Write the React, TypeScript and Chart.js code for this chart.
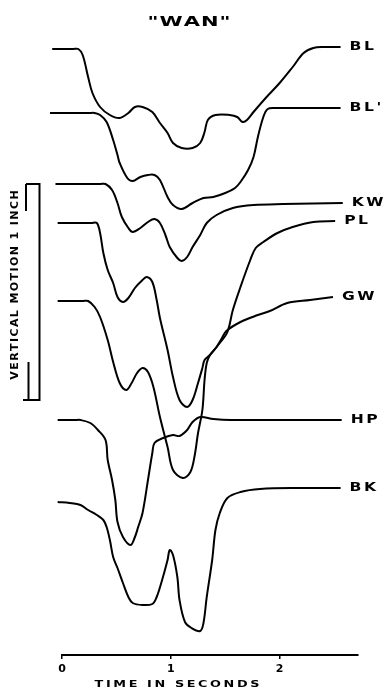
import { useEffect, useRef } from 'react';
import Chart from 'chart.js/auto';

// Time axis (seconds)
const X_TICKS = [0, 1, 2];
const X_MAX = 2.72;
// Vertical position scale (downward units, 215 units = 1 inch)
const Y_MAX = 655;
const INCH_TOP = 184;
const INCH_BOTTOM = 400;

const TITLE = '"WAN"';
const X_TITLE = 'TIME IN SECONDS';
const SCALE_TEXT = 'VERTICAL MOTION 1 INCH';

// [time s, vertical position]
const BL: [number, number][] = [
  [-0.09, 49], [0.1, 49], [0.15, 49], [0.19, 55], [0.24, 77], [0.28, 93], [0.35, 107], [0.44, 115], [0.53, 118],
  [0.61, 113], [0.67, 107], [0.74, 107], [0.83, 112], [0.9, 123], [0.97, 133], [1.02, 143], [1.1, 148],
  [1.2, 148], [1.27, 143], [1.31, 132], [1.34, 120], [1.41, 115], [1.54, 115], [1.61, 117], [1.66, 122],
  [1.7, 120], [1.76, 112], [1.88, 97], [2.0, 83], [2.12, 67], [2.22, 53], [2.31, 48], [2.4, 47], [2.56, 47],
];
const BL2: [number, number][] = [
  [-0.11, 113], [0.25, 113], [0.3, 113], [0.35, 115], [0.41, 122], [0.47, 140], [0.51, 155], [0.53, 163], [0.6, 178],
  [0.65, 181], [0.72, 177], [0.79, 175], [0.85, 175], [0.9, 180], [0.97, 197], [1.02, 205], [1.1, 209],
  [1.2, 203], [1.3, 198], [1.39, 197], [1.5, 193], [1.59, 188], [1.64, 182], [1.71, 170], [1.76, 157],
  [1.8, 137], [1.85, 117], [1.89, 109], [1.96, 108], [2.08, 108], [2.56, 108],
];
const KW: [number, number][] = [
  [-0.06, 184], [0.35, 184], [0.4, 184], [0.46, 190], [0.51, 203], [0.55, 217], [0.61, 228], [0.65, 232], [0.72, 228],
  [0.79, 222], [0.85, 219], [0.9, 223], [0.95, 235], [0.99, 247], [1.06, 258], [1.1, 261], [1.15, 257],
  [1.2, 247], [1.27, 235], [1.33, 223], [1.42, 215], [1.57, 208], [1.76, 205], [2.03, 204], [2.58, 203],
];
const PL: [number, number][] = [
  [-0.04, 223], [0.27, 223], [0.32, 223], [0.35, 233], [0.38, 253], [0.42, 270], [0.47, 283], [0.51, 297], [0.56, 302],
  [0.61, 298], [0.67, 288], [0.74, 280], [0.78, 277], [0.83, 282], [0.87, 300], [0.9, 318], [0.97, 350],
  [1.02, 377], [1.08, 400], [1.15, 407], [1.2, 400], [1.25, 383], [1.29, 368], [1.31, 360], [1.36, 355],
  [1.45, 343], [1.52, 332], [1.57, 310], [1.64, 287], [1.73, 260], [1.78, 248], [1.85, 242], [1.98, 233],
  [2.12, 227], [2.31, 222], [2.51, 221],
];
const GW: [number, number][] = [
  [-0.04, 301], [0.19, 301], [0.24, 301], [0.3, 307], [0.35, 317], [0.42, 340], [0.47, 362], [0.53, 383], [0.59, 390],
  [0.64, 383], [0.69, 373], [0.74, 368], [0.79, 372], [0.84, 387], [0.9, 417], [0.97, 447], [1.02, 470],
  [1.11, 478], [1.18, 472], [1.22, 455], [1.25, 433], [1.29, 410], [1.31, 380], [1.33, 363], [1.36, 355],
  [1.42, 347], [1.47, 338], [1.51, 331], [1.64, 322], [1.8, 315], [1.91, 311], [2.07, 303], [2.28, 300],
  [2.49, 297],
];
const HP: [number, number][] = [
  [-0.04, 420], [0.12, 420], [0.17, 420], [0.26, 423], [0.33, 430], [0.4, 440], [0.42, 460], [0.46, 480], [0.49, 500],
  [0.51, 522], [0.56, 537], [0.63, 545], [0.67, 537], [0.7, 527], [0.74, 513], [0.79, 480], [0.83, 453],
  [0.85, 443], [0.93, 438], [1.02, 435], [1.08, 436], [1.15, 430], [1.2, 422], [1.27, 417], [1.39, 419],
  [1.55, 420], [2.57, 420],
];
const BK: [number, number][] = [
  [-0.04, 502], [0.07, 503], [0.17, 505], [0.24, 510], [0.32, 515], [0.38, 520], [0.41, 527], [0.44, 540],
  [0.47, 557], [0.51, 568], [0.56, 583], [0.61, 597], [0.65, 603], [0.74, 605], [0.83, 604], [0.87, 597],
  [0.92, 580], [0.97, 560], [0.99, 550], [1.02, 555], [1.06, 577], [1.08, 600], [1.13, 622], [1.19, 628],
  [1.27, 631], [1.3, 623], [1.33, 597], [1.38, 560], [1.41, 530], [1.45, 513], [1.52, 498], [1.64, 492],
  [1.82, 489], [2.19, 488], [2.56, 488],
];

const SERIES_NAMES = ['BL', "BL'", 'KW', 'PL', 'GW', 'HP', 'BK'];
const SERIES_DATA = [BL, BL2, KW, PL, GW, HP, BK];

const FONT = '"DejaVu Sans", sans-serif';

function drawSpaced(
  ctx: CanvasRenderingContext2D,
  text: string,
  x: number,
  y: number,
  size: number,
  scaleX: number,
  spacing: number,
  align: 'left' | 'center'
) {
  ctx.font = `bold ${size}px ${FONT}`;
  ctx.textAlign = 'left';
  ctx.textBaseline = 'middle';
  const chars = [...text];
  const widths = chars.map((c) => ctx.measureText(c).width * scaleX);
  const total = widths.reduce((a, b) => a + b, 0) + spacing * (chars.length - 1);
  let cx = align === 'center' ? x - total / 2 : x;
  chars.forEach((c, i) => {
    ctx.save();
    ctx.translate(cx, y);
    ctx.scale(scaleX, 1);
    ctx.fillText(c, 0, 0);
    ctx.restore();
    cx += widths[i] + spacing;
  });
}

export default function App() {
  const ref = useRef<HTMLCanvasElement>(null);
  useEffect(() => {
    const canvas = ref.current;
    if (!canvas) return;
    const textPlugin = {
      id: 'figureText',
      afterDraw(chart: any) {
        const ctx: CanvasRenderingContext2D = chart.ctx;
        const yScale = chart.scales.y;
        ctx.save();
        ctx.fillStyle = '#000';
        ctx.strokeStyle = '#000';
        // title
        drawSpaced(ctx, TITLE, 189, 22, 14, 1.5, 1, 'center');
        // series labels at line ends
        chart.data.datasets.forEach((ds: any, i: number) => {
          const meta = chart.getDatasetMeta(i);
          const last = meta.data[meta.data.length - 1];
          drawSpaced(ctx, ds.label, last.x + 9, last.y, 12, 1.3, 2.5, 'left');
        });
        // x axis title
        drawSpaced(ctx, X_TITLE, 177, 685, 9.5, 1.35, 2.6, 'center');
        // vertical scale bar
        const yTop = yScale.getPixelForValue(INCH_TOP);
        const yBot = yScale.getPixelForValue(INCH_BOTTOM);
        ctx.lineWidth = 2;
        ctx.beginPath();
        ctx.moveTo(39.5, yTop);
        ctx.lineTo(39.5, yBot);
        ctx.moveTo(26, yTop);
        ctx.lineTo(40.5, yTop);
        ctx.moveTo(26, yTop);
        ctx.lineTo(26, yTop + 27);
        ctx.moveTo(23, yBot);
        ctx.lineTo(40.5, yBot);
        ctx.moveTo(28.5, yBot - 38);
        ctx.lineTo(28.5, yBot);
        ctx.stroke();
        ctx.save();
        ctx.translate(15.5, (yTop + yBot) / 2 - 7);
        ctx.rotate(-Math.PI / 2);
        drawSpaced(ctx, SCALE_TEXT, 0, 0, 10, 1.1, 1.4, 'center');
        ctx.restore();
        ctx.restore();
      },
    };
    const chart = new Chart(canvas, {
      type: 'line',
      data: {
        datasets: SERIES_DATA.map((pts, i) => ({
          label: SERIES_NAMES[i],
          data: pts.map(([x, y]) => ({ x, y })),
          borderColor: '#000',
          borderWidth: 2,
          pointRadius: 0,
          fill: false,
          tension: 0.35,
          clip: false as any,
        })),
      },
      options: {
        responsive: false,
        animation: false,
        devicePixelRatio: 1,
        layout: { padding: { left: 62, right: 29, top: 0, bottom: 0 } },
        plugins: {
          legend: { display: false },
          tooltip: { enabled: false },
          title: { display: false },
        },
        scales: {
          x: {
            type: 'linear',
            min: 0,
            max: X_MAX,
            afterBuildTicks: (s: any) => {
              s.ticks = X_TICKS.map((v) => ({ value: v }));
            },
            afterFit: (s: any) => {
              s.height = 39;
            },
            grid: {
              display: true,
              drawOnChartArea: false,
              drawTicks: true,
              tickLength: 4,
              color: '#000',
              lineWidth: 1.5,
            },
            border: { display: true, color: '#000', width: 2 },
            ticks: {
              color: '#000',
              font: { family: FONT, size: 11, weight: 'bold' },
              padding: 4,
              maxRotation: 0,
              callback: (v: any) => String(v),
            },
          },
          y: {
            type: 'linear',
            display: false,
            reverse: true,
            min: 0,
            max: Y_MAX,
          },
        },
      } as any,
      plugins: [textPlugin],
    });
    return () => chart.destroy();
  }, []);
  return (
    <div style={{ position: 'fixed', left: 0, top: 0, width: 387, height: 694, background: '#fff' }}>
      <canvas ref={ref} width={387} height={694} style={{ display: 'block' }} />
    </div>
  );
}
